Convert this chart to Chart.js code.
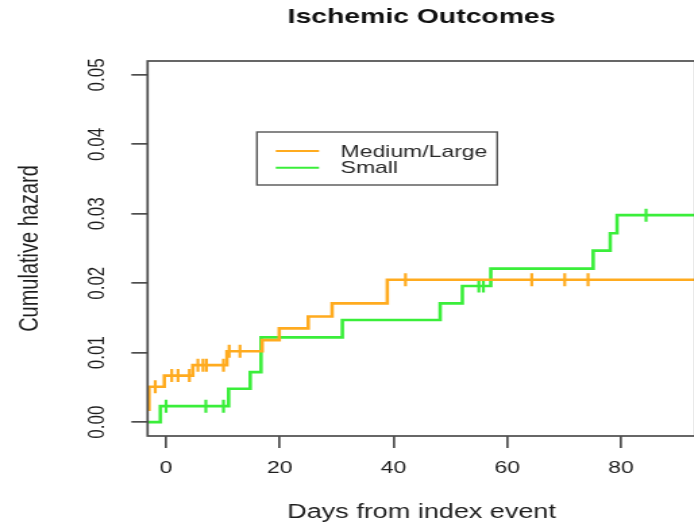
<!DOCTYPE html>
<html>
<head>
<meta charset="utf-8">
<title>Ischemic Outcomes</title>
<script src="https://cdn.jsdelivr.net/npm/chart.js@4.4.1/dist/chart.umd.min.js"></script>
<style>
    html, body { margin: 0; padding: 0; background: #fff; }
    #wrap { width: 694px; height: 528px; overflow: hidden; }
    /* device is wider than it is tall, text comes out stretched */
    #chart { transform: scaleX(1.35); transform-origin: 0 0; }
</style>
</head>
<body>
<div id="wrap"><canvas id="chart" width="530" height="528"></canvas></div>
<script>
var dayTicks = [0, 20, 40, 60, 80];
var hazardTicks = [0, 0.01, 0.02, 0.03, 0.04, 0.05];

var seriesNames = ['Medium/Large', 'Small'];
var seriesColors = ['#ffab1f', '#3aee3a'];

// Medium/Large: event days and cumulative hazard after each event
var mlDays = [-3.25, -3.0, -0.3, 4.7, 10.7, 16.9, 19.9, 25.0, 29.2, 38.9, 93];
var mlHazard = [0.0018, 0.0051, 0.0067, 0.0082, 0.0102, 0.0118, 0.0135, 0.0152, 0.0171, 0.0205, 0.0205];
var mlCensored = [-1.9, 1.0, 2.1, 4.1, 5.6, 6.5, 7.1, 10.1, 11.1, 13.0, 42.1, 64.3, 70.1, 74.2];

// Small
var smDays = [-3.25, -1.0, 11.0, 14.8, 16.7, 31.0, 48.2, 52.1, 57.1, 75.1, 78.1, 79.3, 93];
var smHazard = [0, 0.0023, 0.0048, 0.0072, 0.0122, 0.0147, 0.0171, 0.0196, 0.0221, 0.0247, 0.0272, 0.0298, 0.0298];
var smCensored = [0.0, 7.0, 10.1, 55.0, 55.8, 84.4];

(function () {
    "use strict";

    Chart.defaults.font.family = '"Liberation Sans", Arial, sans-serif';
    Chart.defaults.color = '#1e1e1e';

    function toPoints(days, hazard) {
        return days.map(function (d, i) {
            return {x: d, y: hazard[i]};
        });
    }

    // hazard level of the step curve at day t
    function levelAt(days, hazard, t) {
        var v = hazard[0];
        for (var i = 0; i < days.length; i++) {
            if (days[i] <= t) v = hazard[i];
        }
        return v;
    }

    function censorPoints(times, days, hazard) {
        return times.map(function (t) {
            return {x: t, y: levelAt(days, hazard, t)};
        });
    }

    function stepSet(i, days, hazard) {
        return {
            type: 'line',
            label: seriesNames[i],
            data: toPoints(days, hazard),
            borderColor: seriesColors[i],
            borderWidth: 2.6,
            stepped: true,
            pointRadius: 0,
            fill: false
        };
    }

    function censorSet(i, times, days, hazard) {
        return {
            type: 'scatter',
            label: seriesNames[i] + ' censored',
            data: censorPoints(times, days, hazard),
            pointStyle: 'line',
            rotation: 90,
            pointRadius: 6.5,
            pointHoverRadius: 6.5,
            borderColor: seriesColors[i],
            backgroundColor: seriesColors[i],
            borderWidth: 2.2
        };
    }

    var frameBox = {
        id: 'frameBox',
        afterDatasetsDraw: function (chart) {
            var a = chart.chartArea;
            var ctx = chart.ctx;
            ctx.save();
            ctx.strokeStyle = '#4d4d4d';
            ctx.lineWidth = 1.7;
            ctx.strokeRect(a.left, a.top, a.right - a.left, a.bottom - a.top);
            ctx.restore();
        }
    };

    var keyBox = {
        id: 'keyBox',
        afterDraw: function (chart) {
            var a = chart.chartArea;
            var ctx = chart.ctx;
            var x = a.left + 81, y = a.top + 71, w = 178, h = 53;
            ctx.save();
            ctx.fillStyle = '#fff';
            ctx.fillRect(x, y, w, h);
            ctx.strokeStyle = '#555';
            ctx.lineWidth = 1.4;
            ctx.strokeRect(x, y, w, h);
            ctx.font = '17px "Liberation Sans", Arial, sans-serif';
            ctx.textBaseline = 'middle';
            for (var i = 0; i < 2; i++) {
                var ds = chart.data.datasets[i];
                var ly = y + 19 + i * 16.7;
                ctx.strokeStyle = ds.borderColor;
                ctx.lineWidth = 2;
                ctx.beginPath();
                ctx.moveTo(x + 14, ly);
                ctx.lineTo(x + 46, ly);
                ctx.stroke();
                ctx.fillStyle = '#2a2a2a';
                ctx.fillText(ds.label, x + 62, ly + 1);
            }
            ctx.restore();
        }
    };

    var tickGrid = {
        drawOnChartArea: false,
        drawTicks: true,
        tickLength: 12,
        color: '#4d4d4d',
        lineWidth: 1.7
    };

    new Chart(document.getElementById('chart'), {
        type: 'line',
        data: {
            datasets: [
                stepSet(0, mlDays, mlHazard),
                stepSet(1, smDays, smHazard),
                censorSet(0, mlCensored, mlDays, mlHazard),
                censorSet(1, smCensored, smDays, smHazard)
            ]
        },
        options: {
            responsive: false,
            animation: false,
            devicePixelRatio: 1,
            layout: {padding: {left: 0, right: 14.8, top: 0, bottom: 0}},
            plugins: {
                legend: {display: false},
                tooltip: {enabled: false},
                title: {
                    display: true,
                    text: 'Ischemic Outcomes',
                    fullSize: false,
                    color: '#111',
                    font: {size: 21, weight: 'bold'},
                    padding: {top: 4.9, bottom: 30.9}
                }
            },
            scales: {
                x: {
                    type: 'linear',
                    min: -3.25,
                    max: 93.1,
                    afterBuildTicks: function (s) {
                        s.ticks = dayTicks.map(function (v) { return {value: v}; });
                    },
                    afterFit: function (s) { s.height = 92; },
                    ticks: {font: {size: 17}, padding: 10, maxRotation: 0, autoSkip: false},
                    grid: tickGrid,
                    border: {display: false},
                    title: {
                        display: true,
                        text: 'Days from index event',
                        font: {size: 20},
                        padding: {top: 0, bottom: 3.5}
                    }
                },
                y: {
                    type: 'linear',
                    min: -0.002,
                    max: 0.052,
                    afterBuildTicks: function (s) {
                        s.ticks = hazardTicks.map(function (v) { return {value: v}; });
                    },
                    afterFit: function (s) { s.width = 109.3; },
                    ticks: {
                        font: {size: 17},
                        padding: 8.5,
                        minRotation: 90,
                        maxRotation: 90,
                        crossAlign: 'center',
                        autoSkip: false,
                        callback: function (v) { return v.toFixed(2); }
                    },
                    grid: tickGrid,
                    border: {display: false},
                    title: {
                        display: true,
                        text: 'Cumulative hazard',
                        font: {size: 20},
                        padding: {top: 10.2, bottom: 0}
                    }
                }
            }
        },
        plugins: [frameBox, keyBox]
    });
}());
</script>
</body>
</html>
